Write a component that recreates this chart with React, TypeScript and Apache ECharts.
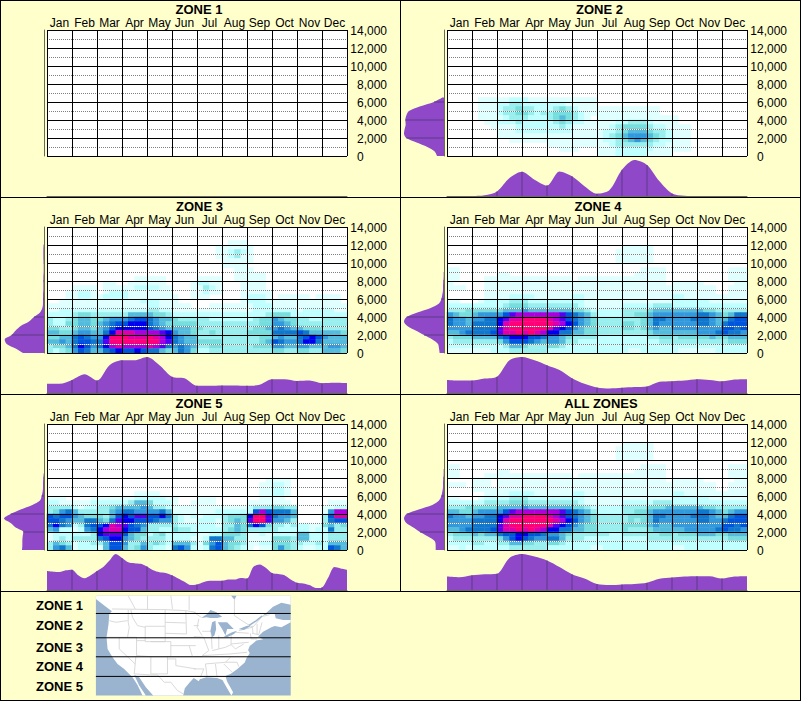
import React, { useEffect, useRef } from "react";
import * as echarts from "echarts";

const MONTHS = ["Jan", "Feb", "Mar", "Apr", "May", "Jun", "Jul", "Aug", "Sep", "Oct", "Nov", "Dec"];
const ELEV_STEPS = Array.from({ length: 29 }, (_, k) => String(k * 500));
const LEVEL_COLORS = ["#FFFFFF", "#E0FFFF", "#BFFFFF", "#99EEEE", "#77DDDD", "#55BBDD", "#3399DD", "#1177CC", "#0055DD", "#0000EE", "#5500EE", "#AA00DD", "#DD00AA", "#FF0077"];

// Rows listed from the highest one down to 0-500 ft; each group is a month of four cells, one character a colour level.
const ZONE2_ROWS = [
  "0000 0111 1122 2111 1111 1111",
  "0000 0111 2233 2222 2221 1111",
  "0000 0111 2334 3322 2343 2111 1111 1111 1100",
  "0000 0111 2334 4323 3444 3211 1111 1111 1100",
  "0000 0111 1233 3222 3454 3210 1111 1111 1111 1000",
  "0000 0011 2223 2222 2343 2211 1112 2333 2111 1000",
  "0000 0001 1112 2222 2232 1111 1123 4444 3221 1110",
  "0000 0000 1112 2222 2222 1111 1223 4555 4332 1110",
  "0000 0000 1111 1111 1111 1111 1234 5666 5432 1110",
  "0000 0000 0011 1111 1111 1111 1223 4565 4322 1110",
  "0000 0000 0000 0000 1111 1111 1123 3333 3221 1110",
  "0000 0000 0000 0000 0011 1000 1112 2222 2111 1110",
  "0000 0000 0000 0000 0000 0000 1112 2222 1111 0000",
];
const ZONE3_ROWS = [
  "0000 0000 0000 0000 0000 0000 0000 0111",
  "0000 0000 0000 0000 0000 0000 0001 1111 1000",
  "0000 0000 0000 0000 0000 0000 0001 1232 1000",
  "0000 0000 0000 0000 0000 0000 0001 1231 1000",
  "0000 0000 0000 0000 0000 0000 0000 1111 1000",
  "0000 0000 0000 0000 0000 0000 0000 1111 0000",
  "0000 0000 0000 0000 0000 0000 0000 0011 1000",
  "0000 0000 0000 0000 0000 0000 0000 0011 1110",
  "0000 0000 0000 0011 1110 0000 1111 0011 1110",
  "0000 0000 0110 0111 1110 0001 2211 0001 1110",
  "0000 1111 0111 1122 2211 0001 1321 0001 1110",
  "0001 1221 0122 2111 1111 0001 1211 0001 1111",
  "0001 1221 1222 2111 1111 1001 1100 0001 2221 0111 1101 1110",
  "0011 1111 1111 1112 2211 1000 0000 0001 2221 1111 1111 1110",
  "1111 1111 1111 1111 2211 1110 0011 1111 1222 1111 1111 1111",
  "1122 2222 2222 2222 3322 1111 1111 1111 1222 2222 1222 2211",
  "2222 3443 3333 3555 5443 2222 2222 2222 2223 4442 2222 2222",
  "3223 4554 4566 6788 7655 4333 3322 2222 2344 6544 3322 3333",
  "3224 4554 5678 8999 7654 4444 3333 3333 3344 6654 3333 3333",
  "4433 4554 5689 9999 8765 5554 4333 3333 3445 6765 5444 3333",
  "5544 5665 579c ccbb bba9 6554 3343 3333 4444 7777 8755 5554",
  "4455 7876 69dd dccc dcb9 7655 3333 3333 3344 5655 7898 6555",
  "5565 7887 7add dddd ddba 7655 4444 3333 3345 8766 7997 5555",
  "3445 7986 79bc bbbb cba7 6765 3344 3333 3444 6655 6655 5665",
  "3234 6875 5789 8898 7754 5764 2233 3333 3333 4433 4433 5554",
];
const ZONE4_ROWS = [
  "0000 0000 0000 0000 0000 0000 0000 1111 1000",
  "0000 0000 0000 0000 0000 0000 0001 1111 1000",
  "0000 0000 0000 0000 0000 0000 0001 1111 1000",
  "0000 0000 0000 0000 0000 0000 0001 1111 1000",
  "",
  "1100 0000 0000 0000 0000 0000 0000 0001 1110 0000 0000 0111",
  "1100 0000 1100 0000 0000 0000 0000 0011 1110 0000 0000 0111",
  "1100 0011 1111 1111 1111 0111 1111 1111 1110 0000 0000 0111",
  "1000 0011 1111 1111 1111 1111 1111 1111 1110 1111 1000 0011",
  "1110 0011 1111 1111 1111 1111 1111 1111 1111 1111 1110 0111",
  "0000 0011 1111 1111 1111 1111 1111 1111 1111 1111 1110 0111",
  "0000 0011 1122 2211 1111 2211 1111 1111 1111 2211 1111 1111",
  "1100 0122 2233 3222 2222 2211 1111 1111 1111 2222 2211 1111",
  "2222 2222 2344 4333 3333 3211 1111 2222 2333 2222 2222 2222",
  "3334 4444 4555 6555 5555 4432 2222 3333 4555 5555 5443 3333",
  "6544 5666 68ab bbbb bba8 7653 2222 3344 5666 6666 7765 4577",
  "7665 6677 9acc dddd cba8 7654 3333 3334 5776 6667 7765 5788",
  "7665 7777 9cdd dddd dcb9 8654 3333 4434 5766 6666 7765 7888",
  "6666 7777 acdd dddd ca98 6544 3333 4434 5655 6666 6666 8878",
  "5567 7778 accd cdcb 9977 5544 3333 3333 4555 5555 6667 8776",
  "3444 5555 7899 9887 6654 3333 2222 2222 3344 3444 4454 4555",
  "2333 3333 4688 8765 6653 3222 2222 2222 2233 3333 3333 3444",
  "2222 2222 2355 4333 4432 2222 2222 2222 2222 2222 2222 2222",
  "1111 1112 2233 3333 2222 2222 2222 2112 2222 2111 1112 2222",
];
const ZONE5_ROWS = [
  "0000 0000 0000 0000 0000 0000 0000 0000 0001 1110",
  "0000 0000 0000 0000 0000 0000 0000 0000 0011 2210",
  "0000 0000 0000 0000 0000 0000 0000 0000 0011 2210",
  "0000 0000 0000 0011 1100 0000 0000 0000 0011 2210",
  "1110 0001 1111 1122 2221 1000 1110 0000 0011 1100 0000 0000",
  "2211 1112 2222 2355 4222 1001 1110 0000 1111 1110 0000 0111",
  "3333 2122 3345 5556 5332 1111 1111 1111 2333 4433 0000 1122",
  "3467 5333 3356 7766 6675 1111 1112 2222 28b8 7775 0000 16bb",
  "8788 6544 4358 98aa 8897 3212 1222 3444 9dda 7665 0000 38cc",
  "8876 5577 547a 9988 8766 3211 2221 3454 adda 6653 0000 3788",
  "7976 2378 89cb a876 3333 3222 2221 3354 7984 3323 2211 4534",
  "5622 1267 9bcc 9885 3322 4332 2222 3454 3333 3222 2212 2733",
  "1222 2223 9aaa 8544 2342 2222 1122 4443 1121 2222 5522 2333",
  "1232 3333 7899 6543 3332 2221 1277 5533 1111 4443 5522 2333",
  "3543 1223 3588 6335 3432 5553 1468 5443 1122 4443 3223 2555",
  "3675 1222 1588 5346 3221 7862 1278 5432 1011 4643 2112 2875",
];
const ALL_ROWS = [
  "0000 0000 0000 0000 0000 0000 0000 1111 1000",
  "0000 0000 0000 0000 0000 0000 0001 1111 1000",
  "0000 0000 0000 0000 0000 0000 0001 1111 1000",
  "0000 0000 0000 0000 0000 0000 0001 1111 1000",
  "",
  "1100 0000 0000 0000 0000 0000 0000 0001 1110 0000 0000 0111",
  "1100 0000 1100 0000 0000 0000 0000 0011 1110 0000 0000 0111",
  "1100 0011 1111 1111 1111 0111 1111 1111 1110 0000 0000 0111",
  "0000 1110 1111 1111 1111 1111 1111 1111 1110 1111 1000 0011",
  "1110 1110 1111 1111 1111 1111 1111 1111 1111 1111 1110 0111",
  "0000 1111 1111 1111 1111 1111 1111 1111 1111 1111 1110 0111",
  "0000 0011 1122 2211 1111 2211 1111 1111 1111 2211 1111 1111",
  "1100 0122 2233 3222 2222 2211 1111 1111 1111 2222 2211 1111",
  "2222 2233 3344 4333 3333 3211 1111 2222 2333 2222 2222 2222",
  "3334 4444 5555 6555 5555 4432 2222 3333 4445 5555 5443 3333",
  "5544 5666 68ab bbbb bba8 7653 2222 3344 5666 6666 7765 4566",
  "7665 6677 9acc dddd cba8 7654 3333 3444 5776 6667 7765 5788",
  "6666 7777 9cdd dddd dcb9 8654 3333 3434 5766 6666 7766 7888",
  "6666 7777 acdd dddd ca98 6544 3333 4444 5655 6666 6666 8878",
  "5567 7778 accd cdcb 9977 5544 3333 4333 4555 5566 6667 8776",
  "3444 5455 7889 9887 6654 3333 3322 3333 3344 3444 5554 4555",
  "2333 3333 4689 8766 7753 3322 2222 2222 3333 3333 3333 3444",
  "2222 3322 3355 4433 4432 2222 2222 2222 2222 2222 2222 2222",
  "1121 2222 2233 3333 2222 2221 1222 2222 2222 1122 2222 2222",
];

// Seasonal density (margin plot under each panel), evenly spaced from 1 Jan to 31 Dec.
const ZONE2_SEASON = [0, 0, 0, 2, 14, 55, 74, 50, 32, 75, 60, 30, 7, 18, 80, 110, 95, 45, 8, 1, 0, 0, 0, 0, 0];
const ZONE3_SEASON = [28, 28, 40, 57, 38, 85, 100, 100, 110, 85, 50, 45, 22, 22, 23, 23, 22, 25, 42, 42, 37, 38, 30, 31, 30];
const ZONE4_SEASON = [40, 38, 38, 44, 50, 100, 110, 100, 85, 70, 45, 28, 17, 14, 16, 18, 20, 34, 36, 38, 42, 40, 36, 41, 42];
const ZONE5_SEASON = [58, 56, 55, 60, 62, 45, 36, 45, 58, 70, 90, 110, 98, 85, 82, 80, 72, 60, 54, 52, 45, 35, 25, 15, 17, 24, 28, 28, 28, 32, 32, 37, 35, 70, 78, 68, 52, 49, 45, 32, 22, 20, 15, 6, 8, 38, 70, 66, 62];
const ALL_SEASON = [41, 39, 45, 48, 50, 98, 110, 102, 90, 70, 48, 35, 18, 15, 17, 18, 22, 34, 38, 41, 42, 42, 35, 41, 42];

// Elevation density (margin plot left of each panel), every 500 ft from 0 upward.
const ZONE2_ELEV = [21, 28, 50, 82, 113, 120, 118, 115, 116, 113, 105, 73, 30, 5];
const ZONE3_ELEV = [63, 85, 112, 118, 97, 85, 70, 45, 30, 12, 5, 3, 3, 3, 2, 2, 2, 2, 1, 1, 1, 2, 2, 2, 1];
const ZONE4_ELEV = [13, 15, 18, 35, 60, 85, 110, 120, 112, 80, 40, 15, 8, 5, 3, 3, 2, 1, 1];
const ZONE5_ELEV = [66, 65, 65, 64, 62, 85, 100, 120, 100, 70, 35, 12, 7, 4, 3, 3, 2, 1];
const ALL_ELEV = [25, 25, 28, 48, 72, 92, 113, 120, 112, 76, 35, 15, 8, 5, 3, 3, 2, 1, 1];

const PANELS = [
  { title: "ZONE 1", tx: 199, rows: [] as string[], season: [] as number[], elev: [] as number[], ox: 0, oy: 0 },
  { title: "ZONE 2", tx: 199.5, rows: ZONE2_ROWS, season: ZONE2_SEASON, elev: ZONE2_ELEV, ox: 400, oy: 0 },
  { title: "ZONE 3", tx: 199.5, rows: ZONE3_ROWS, season: ZONE3_SEASON, elev: ZONE3_ELEV, ox: 0, oy: 197 },
  { title: "ZONE 4", tx: 198, rows: ZONE4_ROWS, season: ZONE4_SEASON, elev: ZONE4_ELEV, ox: 400, oy: 197 },
  { title: "ZONE 5", tx: 199, rows: ZONE5_ROWS, season: ZONE5_SEASON, elev: ZONE5_ELEV, ox: 0, oy: 394 },
  { title: "ALL ZONES", tx: 201, rows: ALL_ROWS, season: ALL_SEASON, elev: ALL_ELEV, ox: 400, oy: 394 },
];

const LEGEND = [["ZONE 1", 605], ["ZONE 2", 625], ["ZONE 3", 647], ["ZONE 4", 666], ["ZONE 5", 686]] as [string, number][];

const FONT = '"Liberation Sans", Arial, sans-serif';
const PURPLE = "#8E48C8";
const PURPLE_DARK = "#5E3A86";
const AXIS_GRAY = "#6A6A5A";
const WATER = "#9AB3CE";

const COLS48 = Array.from({ length: 48 }, (_, i) => String(i));
const ROWS28 = Array.from({ length: 28 }, (_, i) => String(i));

// Outline sketch of the locator map, in a 3x drawing space.
const LAND = [
  [288, 17], [873, 17], [873, 44], [845, 38], [820, 50], [800, 68], [787, 78], [805, 72], [825, 72], [828, 85], [850, 90], [873, 90],
  [873, 97], [845, 112], [825, 108], [815, 112], [790, 125], [775, 140], [790, 148], [770, 152], [750, 168], [745, 180], [750, 190],
  [740, 205], [735, 218], [712, 238], [692, 252], [677, 258], [682, 275], [700, 307], [695, 317], [685, 300], [668, 270], [652, 264],
  [620, 262], [600, 268], [597, 274], [582, 264], [570, 277], [555, 295], [550, 317], [428, 317], [413, 285], [398, 262], [388, 252],
  [373, 237], [353, 222], [338, 202], [323, 177], [320, 142], [326, 102], [328, 72], [336, 64], [318, 50], [288, 27],
];
const WATER_SHAPES = [
  [[604, 84], [622, 72], [632, 60], [650, 67], [667, 80], [652, 84], [632, 84], [620, 82]],
  [[637, 97], [647, 92], [649, 117], [644, 137], [637, 142], [632, 122]],
  [[654, 97], [682, 97], [702, 117], [682, 117], [677, 137], [667, 117]],
  [[672, 140], [697, 127], [712, 122], [702, 132], [682, 142]],
  [[717, 117], [742, 107], [752, 109], [732, 120]],
  [[694, 17], [710, 17], [704, 29]],
  [[403, 255], [418, 262], [438, 292], [460, 317], [438, 317], [418, 287]],
];
const WEST_LINES = [
  [[336, 57], [498, 59], [558, 62], [588, 67]], [[385, 17], [406, 57]], [[443, 17], [443, 57]], [[513, 17], [518, 57]], [[568, 17], [568, 60]],
  [[328, 92], [348, 97], [383, 92]], [[385, 60], [385, 97], [388, 112], [383, 142]], [[321, 142], [410, 142]],
  [[393, 60], [398, 82], [413, 107], [436, 112]], [[436, 109], [496, 109], [496, 155], [436, 155], [436, 109]], [[496, 59], [496, 109]],
  [[496, 97], [558, 99]], [[496, 130], [560, 132]], [[410, 142], [410, 197], [453, 200]], [[410, 152], [436, 152]],
  [[358, 142], [358, 177], [406, 222]], [[453, 155], [513, 155], [513, 200], [453, 200], [453, 252]], [[408, 200], [406, 222], [403, 252]],
  [[503, 200], [503, 252], [453, 252]], [[513, 167], [568, 167], [578, 200], [513, 200]], [[503, 207], [528, 207], [528, 227], [588, 237]],
  [[558, 62], [560, 132]], [[568, 167], [588, 167]], [[403, 252], [453, 255], [473, 255], [493, 277], [513, 277], [533, 302], [550, 312]],
];
const EAST_LINES = [
  [[582, 67], [604, 82]], [[704, 29], [704, 77], [742, 102]], [[742, 102], [759, 112], [787, 80], [810, 74]], [[717, 122], [757, 112]],
  [[597, 87], [592, 112], [607, 137]], [[582, 107], [597, 107]], [[582, 140], [612, 142]], [[607, 124], [634, 124]], [[634, 124], [637, 177]],
  [[657, 137], [657, 177]], [[694, 137], [694, 164]], [[707, 127], [747, 130]], [[694, 137], [707, 127]], [[694, 162], [747, 157]],
  [[637, 182], [657, 177], [677, 172], [694, 164]], [[607, 197], [692, 192], [742, 187]], [[694, 164], [707, 177], [732, 162]],
  [[612, 142], [627, 182], [607, 197]], [[617, 222], [677, 217], [692, 202]], [[617, 222], [622, 262]], [[647, 222], [652, 262]],
  [[622, 260], [677, 260]], [[672, 222], [697, 247]], [[677, 217], [712, 217], [717, 230]], [[582, 237], [612, 237], [602, 262]],
  [[582, 200], [607, 200]], [[757, 107], [760, 130]], [[772, 102], [772, 134]], [[787, 97], [777, 134]], [[757, 130], [777, 134]],
  [[752, 130], [754, 147], [772, 147]],
];

function cells(rows: string[]) {
  const out: [number, number, number][] = [];
  rows.forEach((row, idx) => {
    const r = rows.length - 1 - idx;
    row.replace(/ /g, "").split("").forEach((ch, c) => {
      const v = parseInt(ch, 16);
      if (v > 0) out.push([c, r, v]);
    });
  });
  return out;
}

function buildOption() {
  const grid: any[] = [];
  const xAxis: any[] = [];
  const yAxis: any[] = [];
  const series: any[] = [];
  const title: any[] = [];
  const heatIdx: number[] = [];

  PANELS.forEach((p) => {
    const g = grid.length;
    grid.push({ left: 47 + p.ox, top: 30 + p.oy, width: 300, height: 126, show: true, backgroundColor: "#fff", borderWidth: 0 });
    grid.push({ left: 4 + p.ox, top: 30 + p.oy, width: 40, height: 126 });
    grid.push({ left: 47 + p.ox, top: 160 + p.oy, width: 300, height: 36 });

    title.push({ text: p.title, left: p.tx + p.ox, top: 3 + p.oy, textAlign: "center", padding: 0, textStyle: { fontFamily: FONT, fontSize: 13, fontWeight: "bold", color: "#000", lineHeight: 13 } });

    xAxis.push({
      gridIndex: g, type: "category", position: "top", data: MONTHS, z: 5,
      axisLine: { show: false }, axisTick: { show: false },
      axisLabel: { interval: 0, margin: 1, fontFamily: FONT, fontSize: 12, color: "#000" },
      splitLine: { show: true, interval: 0, lineStyle: { color: "#000", width: 1 } },
    });
    const xC = xAxis.length;
    xAxis.push({ gridIndex: g, type: "category", data: COLS48, show: false });
    const xL = xAxis.length;
    xAxis.push({ gridIndex: g + 1, type: "value", min: 0, max: 120, inverse: true, show: false });
    const xB = xAxis.length;
    xAxis.push({
      gridIndex: g + 2, type: "value", min: 0, max: 12, z: 3,
      axisLine: { show: true, onZero: false, lineStyle: { color: AXIS_GRAY, width: 1 } },
      axisTick: { show: false }, axisLabel: { show: false }, splitLine: { show: false },
    });

    yAxis.push({
      gridIndex: g, type: "value", position: "right", min: 0, max: 14000, interval: 2000, z: 5,
      axisLine: { show: false }, axisTick: { show: false },
      minorTick: { show: false, splitNumber: 2 },
      axisLabel: {
        margin: 40, align: "right", fontFamily: FONT, fontSize: 12, color: "#000", padding: [2, 0, 0, 0],
        formatter: (v: number) => (v === 0 ? "{z|0}" : v.toLocaleString("en-US")),
        rich: { z: { width: 30, align: "left", fontFamily: FONT, fontSize: 12, color: "#000" } },
      },
      splitLine: { show: true, lineStyle: { color: "#000", width: 1 } },
      minorSplitLine: { show: true, lineStyle: { color: "#808080", width: 1, type: [1, 1] } },
    });
    const yR = yAxis.length;
    yAxis.push({ gridIndex: g, type: "category", data: ROWS28, show: false });
    yAxis.push({
      gridIndex: g, type: "value", min: 0, max: 14000, interval: 2000, z: 4,
      axisLine: { show: false }, axisTick: { show: false }, axisLabel: { show: false },
      minorTick: { show: false, splitNumber: 2 }, splitLine: { show: false },
      minorSplitLine: { show: true, lineStyle: { color: "#fff", width: 1, type: [1, 1], dashOffset: 1 } },
    });
    const yL = yAxis.length;
    yAxis.push({
      gridIndex: g + 1, type: "category", boundaryGap: false, data: ELEV_STEPS, position: "right", z: 3,
      axisLine: { show: true, onZero: false, lineStyle: { color: AXIS_GRAY, width: 1 } },
      axisTick: { show: false }, axisLabel: { show: false }, splitLine: { show: false },
    });
    const yB = yAxis.length;
    yAxis.push({ gridIndex: g + 2, type: "value", min: 0, max: 110, show: false });

    if (p.rows.length) {
      heatIdx.push(series.length);
      series.push({ type: "heatmap", xAxisIndex: xC, yAxisIndex: yR, data: cells(p.rows), progressive: 0, itemStyle: { borderWidth: 0 } });
    }
    if (p.elev.length) {
      series.push({
        type: "line", xAxisIndex: xL, yAxisIndex: yL, data: p.elev, smooth: 0.3, showSymbol: false,
        lineStyle: { width: 0 }, itemStyle: { color: PURPLE }, areaStyle: { color: PURPLE, opacity: 1 },
      });
      series.push({
        type: "bar", xAxisIndex: xL, yAxisIndex: yL, barWidth: 1, z: 3, itemStyle: { color: PURPLE_DARK },
        data: p.elev.map((v, k) => (k > 0 && k % 4 === 0 ? v : null)),
      });
    }
    if (p.season.length) {
      const n = p.season.length - 1;
      series.push({
        type: "line", xAxisIndex: xB, yAxisIndex: yB, data: p.season.map((v, i) => [(12 * i) / n, v]), smooth: 0.3, showSymbol: false,
        lineStyle: { width: 0 }, itemStyle: { color: PURPLE }, areaStyle: { color: PURPLE, opacity: 1 },
      });
      series.push({
        type: "bar", xAxisIndex: xB, yAxisIndex: yB, barWidth: 1, z: 3, itemStyle: { color: PURPLE_DARK },
        data: p.season.map((v, i) => [(12 * i) / n, v]).filter((d) => Number.isInteger(d[0]) && d[0] > 0 && d[0] < 12),
      });
    }
  });

  const border = { stroke: "#000", fill: "none", lineWidth: 1 };
  const hLine = (x1: number, x2: number, y: number) => ({ type: "line", shape: { x1, y1: y, x2, y2: y }, style: border, z: 20 });
  const vLine = (x: number, y1: number, y2: number) => ({ type: "line", shape: { x1: x, y1, x2: x, y2 }, style: border, z: 20 });

  const gray = { stroke: "#D2D2D2", fill: "none", lineWidth: 2.5 };
  const mapGroup = {
    type: "group", x: 0, y: 590, scaleX: 1 / 3, scaleY: 1 / 3, z: 10,
    children: [
      { type: "rect", shape: { x: 288, y: 17, width: 585, height: 300 }, style: { fill: WATER } },
      { type: "polygon", shape: { points: LAND }, style: { fill: "#fff" } },
      ...[...WEST_LINES, ...EAST_LINES].map((pts) => ({ type: "polyline", shape: { points: pts }, style: gray })),
      ...WATER_SHAPES.map((pts) => ({ type: "polygon", shape: { points: pts }, style: { fill: WATER } })),
      { type: "polyline", shape: { points: [[747, 107], [770, 92], [787, 78]] }, style: { stroke: WATER, fill: "none", lineWidth: 4 } },
      ...[70, 143, 200, 259].map((y) => ({ type: "line", shape: { x1: 288, y1: y + 0.5, x2: 873, y2: y + 0.5 }, style: { stroke: "#000", lineWidth: 3 } })),
    ],
  };

  const graphic = [
    hLine(0, 801, 0.5), hLine(0, 801, 197.5), hLine(0, 801, 394.5), hLine(0, 801, 591.5), hLine(0, 801, 700.5),
    vLine(0.5, 0, 701), vLine(800.5, 0, 701), vLine(400.5, 0, 591),
    ...LEGEND.map(([t, y]) => ({
      type: "text", x: 83, y: y + 0.5, z: 20,
      style: { text: t, fill: "#000", font: `bold 13px ${FONT}`, textAlign: "right", textVerticalAlign: "middle" },
    })),
    mapGroup,
  ];

  return {
    animation: false,
    backgroundColor: "#FFFFCC",
    title, grid, xAxis, yAxis, series, graphic,
    visualMap: {
      type: "piecewise", show: false, seriesIndex: heatIdx, dimension: 2,
      pieces: LEVEL_COLORS.map((color, value) => ({ value, color })),
    },
  };
}

export default function App() {
  const ref = useRef<HTMLDivElement>(null);
  useEffect(() => {
    document.body.style.margin = "0";
    const chart = echarts.init(ref.current!, undefined, { renderer: "svg" });
    chart.setOption(buildOption() as any);
    return () => chart.dispose();
  }, []);
  return <div ref={ref} style={{ width: 801, height: 701 }} />;
}
